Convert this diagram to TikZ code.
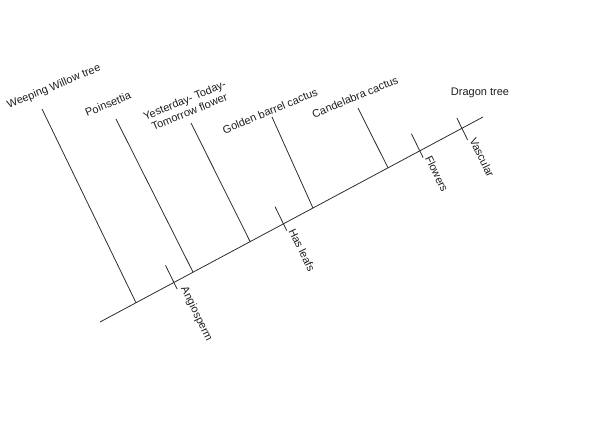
\documentclass[tikz,border=0pt]{standalone}
\usepackage{fontspec}
\setmainfont{Liberation Sans}
\usetikzlibrary{calc,positioning}
\definecolor{branchGray}{RGB}{45,45,45}
\definecolor{labelGray}{RGB}{30,30,30}

\begin{document}
\begin{tikzpicture}[x=1pt,y=-1pt,
  branch/.style={draw=branchGray,line width=.8pt},
  leafLabel/.style={font=\fontsize{11}{12.5}\selectfont,text=labelGray,rotate=22.5,inner sep=1pt,align=center},
  traitLabel/.style={font=\fontsize{11}{12.5}\selectfont,text=labelGray,rotate=-64,anchor=south west,inner sep=1pt}]
\useasboundingbox (0,0) rectangle (598,432);
% main line
\coordinate (root) at (100,322);
\coordinate (dragon) at (483,117);
\draw[branch] (root) -- (dragon);
% leaves
\coordinate (willowBase) at ($(root)!0.094!(dragon)$);
\coordinate (poinBase) at ($(root)!0.243!(dragon)$);
\coordinate (ytBase) at ($(root)!0.392!(dragon)$);
\coordinate (goldenBase) at ($(root)!0.556!(dragon)$);
\coordinate (candBase) at ($(root)!0.752!(dragon)$);
\coordinate (willowTip) at (42,109);
\coordinate (poinTip) at (116,119);
\coordinate (ytTip) at (191,123);
\coordinate (goldenTip) at (272,117);
\coordinate (candTip) at (358,108);
\draw[branch] (willowBase) -- (willowTip);
\draw[branch] (poinBase) -- (poinTip);
\draw[branch] (ytBase) -- (ytTip);
\draw[branch] (goldenBase) -- (goldenTip);
\draw[branch] (candBase) -- (candTip);
\node[leafLabel] (willow) at (54,87) {Weeping Willow tree};
\node[leafLabel] (poin) at (108,104) {Poinsettia};
\node[leafLabel] (yt) at (187,106) {Yesterday- Today-\\Tomorrow flower};
\node[leafLabel] (golden) at (270,111) {Golden barrel cactus};
\node[leafLabel] (cand) at (355,97) {Candelabra cactus};
\node[font=\fontsize{11}{12.5}\selectfont,text=labelGray,inner sep=1pt] (dragonLabel) at (480,93) {Dragon tree};
% traits
\coordinate (angio) at ($(root)!0.193!(dragon)$);
\coordinate (leafs) at ($(root)!0.479!(dragon)$);
\coordinate (flowers) at ($(root)!0.835!(dragon)$);
\coordinate (vasc) at ($(root)!0.945!(dragon)$);
\draw[branch] ($(angio)+(-8.4,-17.1)$) -- ($(angio)+(3.3,6.8)$) coordinate (angioEnd);
\draw[branch] ($(leafs)+(-8.4,-17.1)$) -- ($(leafs)+(3.3,6.8)$) coordinate (leafsEnd);
\draw[branch] ($(flowers)+(-8.4,-17.1)$) -- ($(flowers)+(3.3,6.8)$) coordinate (flowersEnd);
\draw[branch] ($(vasc)+(-5.1,-10.3)$) -- ($(vasc)+(5.7,11.7)$) coordinate (vascEnd);
\node[traitLabel] (angioLabel) at (angioEnd) {Angiosperm};
\node[traitLabel] (leafsLabel) at (leafsEnd) {Has leafs};
\node[traitLabel] (flowersLabel) at (flowersEnd) {Flowers};
\node[traitLabel] (vascLabel) at (vascEnd) {Vascular};
\end{tikzpicture}
\end{document}
